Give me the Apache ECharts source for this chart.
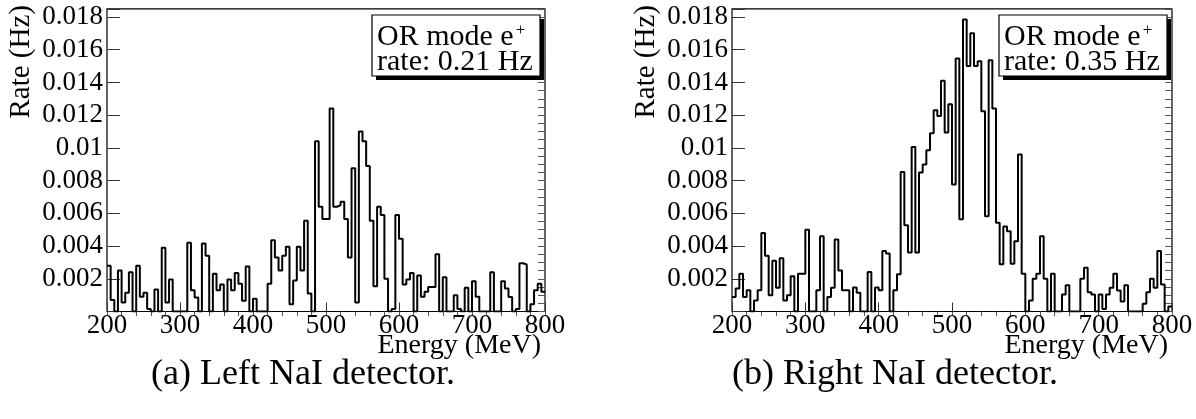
<!DOCTYPE html>
<html><head><meta charset="utf-8">
<script src="https://cdn.jsdelivr.net/npm/echarts@6/dist/echarts.min.js"></script>
<style>html,body{margin:0;padding:0;background:#fff}#c{width:1196px;height:419px}</style>
</head><body><div id="c"></div>
<script>
// Histogram: 120 bins of 5 MeV from 200 to 800 MeV, rates in Hz
const binStart = 200;
const binWidth = 5;
const leftRates = [
  0.0028,0.0007,0,0.0025,0.00055,0.00115,0.0024,0,0.0028,0.0009,
  0.00115,0.00015,0,0.00135,0,0.0039,0.00055,0.00195,0,0,
  0,0,0.0042,0.0013,0.00085,0,0.00415,0.0034,0,0.0023,
  0.0013,0.00165,0,0.00195,0.0013,0.00235,0.0017,0.00065,0.00275,0,
  0.00078,0,0,0,0.0017,0.00435,0.0033,0.0025,0.0034,0.00395,
  0.00045,0.0019,0.00395,0.0025,0.00555,0.0011,0,0.0104,0.0064,0.00565,
  0.00565,0.0124,0.0064,0.0065,0.0067,0.00565,0.0033,0.00875,0.00055,0.011,
  0.0104,0.0089,0.00555,0.00155,0.0064,0.0059,0.002,0,0.00015,0.0059,
  0.00445,0.00165,0.00195,0.00235,0,0.0022,0.0009,0.0012,0.0015,0.0015,
  0.0035,0,0.0021,0,0,0.001,0.00015,0,0.00145,0,
  0.00185,0.0009,0,0,0,0.0024,0,0,0.00185,0.0014,
  0.00088,0,0.00015,0.00295,0.00287,0,0.00045,0.0013,0.0017,0.0012
];
const rightRates = [
  0.00088,0.0014,0.0023,0.00088,0.0013,0,0.00067,0.0013,0.0048,0.0034,
  0.001,0.0031,0.00145,0.00325,0.00067,0.001,0.00215,0,0.0023,0.0023,
  0.005,0,0,0.0013,0.0046,0,0.00088,0.00145,0.0044,0.0025,
  0.0013,0.0013,0,0.00147,0.00114,0,0,0.00242,0,0.00147,
  0.0013,0.0037,0.00354,0,0.0013,0.00228,0.00853,0.00527,0.0036,0.01006,
  0.0036,0.00849,0.00898,0.00986,0.0109,0.0123,0.01195,0.0141,0.01094,0.01267,
  0.00776,0.01546,0.00564,0.01784,0.015,0.017,0.015,0.0153,0.01224,0.00582,
  0.01536,0.0124,0.00542,0.00289,0.0052,0.0049,0.00292,0.0043,0.0096,0.0023,
  0,0.00067,0.002,0.0023,0.0046,0.002,0,0.0023,0,0,
  0.00104,0.0016,0,0,0,0.002,0.00267,0.00118,0.00104,0,
  0.00104,0.00016,0.00104,0.00145,0.0023,0.00129,0.00061,0.0016,0,0,
  0,0,0.00047,0.00118,0.002,0.00145,0.0037,0.00165,0,0.0003
];
const xRange = [200, 800];
const xMajor = 100, xMinor = 20;
const yRange = [0, 0.0185];
const yMajor = 0.002, yMinor = 0.0005;
const panels = [
  {rates: leftRates, legend1: 'OR mode e', legend2: 'rate: 0.21 Hz', caption: '(a) Left NaI detector.'},
  {rates: rightRates, legend1: 'OR mode e', legend2: 'rate: 0.35 Hz', caption: '(b) Right NaI detector.'}
];
const xTitle = 'Energy (MeV)';
const yTitle = 'Rate (Hz)';

const FONT = '"Liberation Serif", "Times New Roman", serif';
const gridsPx = [{left: 107, width: 438}, {left: 732, width: 440}];
const TOP = 8.8, BOTTOM = 419 - 311.5;

function stepData(rates) {
  const d = rates.map((v, i) => [binStart + i * binWidth, v]);
  d.push([binStart + rates.length * binWidth, rates[rates.length - 1]]);
  return d;
}
function yFmt(v) {
  if (v <= 0) return '';
  const k = Math.round(v / yMajor);
  if (Math.abs(k * yMajor - v) > 1e-9) return '';
  return String(Number(v.toFixed(3)));
}

const option = {
  animation: false,
  grid: [], xAxis: [], yAxis: [], series: [], graphic: []
};
gridsPx.forEach((g, p) => {
  option.grid.push({left: g.left, width: g.width, top: TOP, bottom: BOTTOM, show: true,
    borderColor: '#000', borderWidth: 1.2, backgroundColor: 'transparent', containLabel: false});
  const gi = p;
  option.xAxis.push({type: 'value', gridIndex: gi, min: xRange[0], max: xRange[1], interval: xMajor,
    axisLine: {show: false}, splitLine: {show: false},
    axisTick: {show: true, inside: true, length: 9, lineStyle: {color: '#333', width: 1}},
    axisLabel: {show: true, margin: 1, fontFamily: FONT, fontSize: 27, color: '#000',
      showMinLabel: true, showMaxLabel: true, hideOverlap: false}});
  option.xAxis.push({type: 'value', gridIndex: gi, min: xRange[0], max: xRange[1], interval: xMinor,
    axisLine: {show: false}, splitLine: {show: false}, axisLabel: {show: false},
    axisTick: {show: true, inside: true, length: 4.5, lineStyle: {color: '#555', width: 1}}});
  option.yAxis.push({type: 'value', gridIndex: gi, min: yRange[0], max: yRange[1], interval: yMajor,
    axisLine: {show: false}, splitLine: {show: false},
    axisTick: {show: true, inside: true, length: 13, lineStyle: {color: '#333', width: 1}},
    axisLabel: {show: true, margin: 4, fontFamily: FONT, fontSize: 27, color: '#000', formatter: yFmt}});
  option.yAxis.push({type: 'value', gridIndex: gi, min: yRange[0], max: yRange[1], interval: yMinor,
    axisLine: {show: false}, splitLine: {show: false}, axisLabel: {show: false},
    axisTick: {show: true, inside: true, length: 7, lineStyle: {color: '#555', width: 1}}});
  option.series.push({type: 'line', xAxisIndex: p * 2, yAxisIndex: p * 2, step: 'end',
    symbol: 'none', clip: true, data: stepData(panels[p].rates),
    lineStyle: {color: '#000', width: 2}, z: 5});

  const right = g.left + g.width;
  option.graphic.push({type: 'text', x: right - 4, y: 346, style: {text: xTitle, font: '28px ' + FONT,
    fill: '#000', align: 'right', verticalAlign: 'middle'}});
  option.graphic.push({type: 'text', x: g.left - 86, y: 5, rotation: Math.PI / 2,
    style: {text: yTitle, font: '29px ' + FONT, fill: '#000', align: 'right', verticalAlign: 'middle'}});
  const bx = right - 173, by = 15, bw = 168, bh = 61;
  option.graphic.push({type: 'rect', shape: {x: bx + 4, y: by + 4, width: bw, height: bh},
    style: {fill: '#000'}, z: 10});
  option.graphic.push({type: 'rect', shape: {x: bx, y: by, width: bw, height: bh},
    style: {fill: '#fff', stroke: '#000', lineWidth: 1.2}, z: 11});
  option.graphic.push({type: 'text', x: bx + 5, y: by + 22, z: 12,
    style: {text: '{m|' + panels[p].legend1 + '}{s|+}', fill: '#000', align: 'left', verticalAlign: 'middle',
      rich: {m: {font: '30px ' + FONT, fill: '#000', lineHeight: 30},
             s: {font: '17px ' + FONT, fill: '#000', verticalAlign: 'top', lineHeight: 30, padding: [0, 0, 0, 2]}}}});
  option.graphic.push({type: 'text', x: bx + 5, y: by + 47, z: 12,
    style: {text: panels[p].legend2, font: '30px ' + FONT, fill: '#000', align: 'left', verticalAlign: 'middle'}});
  option.graphic.push({type: 'text', x: p === 0 ? 303 : 895, y: 375,
    style: {text: panels[p].caption, font: '36px ' + FONT, fill: '#000', align: 'center', verticalAlign: 'middle'}});
});

const chart = echarts.init(document.getElementById('c'), null, {renderer: 'canvas'});
chart.setOption(option);
</script></body></html>
